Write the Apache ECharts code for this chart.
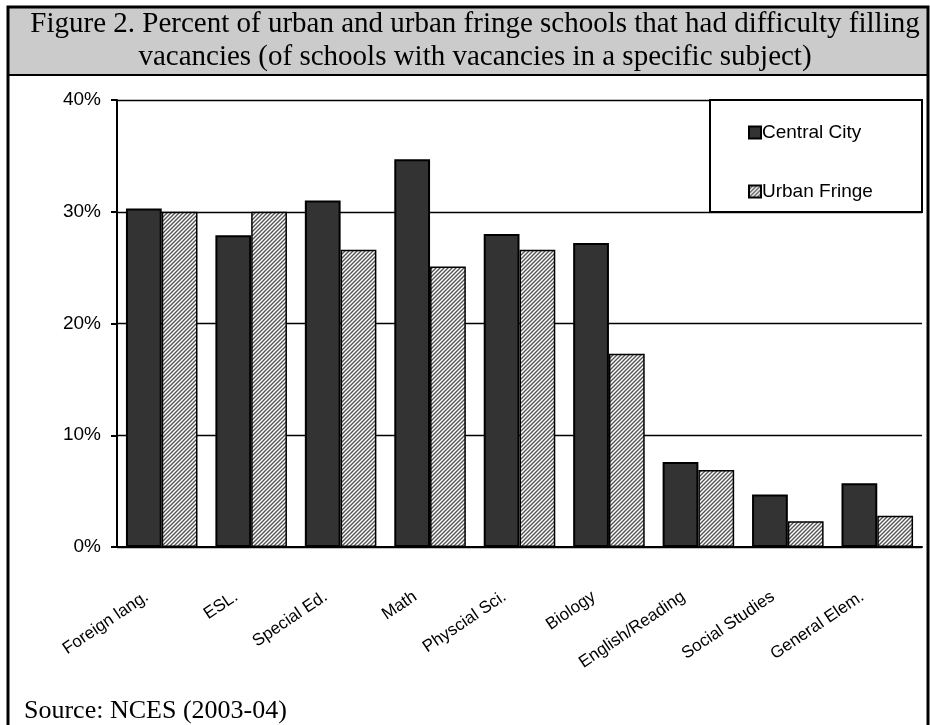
<!DOCTYPE html>
<html>
<head>
<meta charset="utf-8">
<script src="https://cdn.jsdelivr.net/npm/echarts@6/dist/echarts.min.js"></script>
<style>
  html, body { margin: 0; padding: 0; background: #fff; }
  #main { width: 930px; height: 725px; }
</style>
</head>
<body>
<div id="main"></div>
<script>
var subjects = ['Foreign lang.', 'ESL.', 'Special Ed.', 'Math', 'Physcial Sci.', 'Biology', 'English/Reading', 'Social Studies', 'General Elem.'];
var centralCity = [30.3, 27.9, 31.0, 34.7, 28.0, 27.2, 7.6, 4.7, 5.7];
var urbanFringe = [30.0, 30.0, 26.6, 25.1, 26.6, 17.3, 6.9, 2.3, 2.8];

// diagonal hatch for the urban fringe bars
var hatch = document.createElement('canvas');
hatch.width = 4;
hatch.height = 4;
var ctx = hatch.getContext('2d');
ctx.fillStyle = '#ffffff';
ctx.fillRect(0, 0, 4, 4);
ctx.strokeStyle = '#555555';
ctx.lineWidth = 1.4;
ctx.beginPath();
ctx.moveTo(-1, 5); ctx.lineTo(5, -1);
ctx.moveTo(-3, 3); ctx.lineTo(3, -3);
ctx.moveTo(1, 7); ctx.lineTo(7, 1);
ctx.stroke();

var myChart = echarts.init(document.getElementById('main'));

myChart.setOption({
    animation: false,
    graphic: [
        {   // title band
            type: 'rect', z: 0,
            shape: { x: 8, y: 7, width: 920, height: 68 },
            style: { fill: '#cbcbcb', stroke: '#000', lineWidth: 2 }
        },
        {   // outer frame
            type: 'rect', z: 1,
            shape: { x: 8, y: 7, width: 920, height: 740 },
            style: { fill: 'none', stroke: '#000', lineWidth: 3 }
        },
        {
            type: 'text', z: 2, x: 475, y: 8,
            style: {
                text: 'Figure 2. Percent of urban and urban fringe schools that had difficulty filling\nvacancies (of schools with vacancies in a specific subject)',
                textAlign: 'center', fontFamily: 'Liberation Serif', fontSize: 29,
                lineHeight: 33, fill: '#000'
            }
        },
        {   // legend box
            type: 'rect', z: 3,
            shape: { x: 710, y: 100, width: 212, height: 112 },
            style: { fill: '#fff', stroke: '#000', lineWidth: 2 }
        },
        {
            type: 'text', z: 3, left: 24, top: 698,
            style: { text: 'Source: NCES (2003-04)', fontFamily: 'Liberation Serif', fontSize: 26, fill: '#000' }
        }
    ],
    legend: {
        orient: 'vertical',
        left: 743,
        top: 118,
        z: 5,
        itemWidth: 12,
        itemHeight: 12,
        itemGap: 40,
        icon: 'rect',
        textStyle: { fontFamily: 'Liberation Sans', fontSize: 19, color: '#000', padding: [0, 0, 0, -4] },
        data: ['Central City', 'Urban Fringe']
    },
    grid: { left: 117, right: 8, top: 100, bottom: 178 },
    xAxis: {
        type: 'category',
        data: subjects,
        axisLine: { lineStyle: { color: '#000', width: 2 } },
        axisTick: { interval: 0, length: 8, lineStyle: { color: '#000', width: 2 } },
        axisLabel: {
            interval: 0, rotate: 34, margin: 38,
            fontFamily: 'Liberation Sans', fontSize: 17, color: '#000',
            padding: [0, 18, 0, 0]
        }
    },
    yAxis: {
        type: 'value',
        min: 0,
        max: 40,
        interval: 10,
        axisLine: { show: true, lineStyle: { color: '#000', width: 2 } },
        axisTick: { show: true, length: 6, lineStyle: { color: '#000', width: 2 } },
        axisLabel: {
            formatter: '{value}%', margin: 16,
            fontFamily: 'Liberation Sans', fontSize: 19, color: '#000'
        },
        splitLine: { lineStyle: { color: '#000', width: 1.3 } }
    },
    series: [
        {
            name: 'Central City',
            type: 'bar',
            barGap: '0%',
            barCategoryGap: '20%',
            itemStyle: { color: '#333333', borderColor: '#000', borderWidth: 2 },
            data: centralCity
        },
        {
            name: 'Urban Fringe',
            type: 'bar',
            itemStyle: {
                color: { image: hatch, repeat: 'repeat' },
                borderColor: '#000', borderWidth: 1.5
            },
            data: urbanFringe
        }
    ]
});
</script>
</body>
</html>
